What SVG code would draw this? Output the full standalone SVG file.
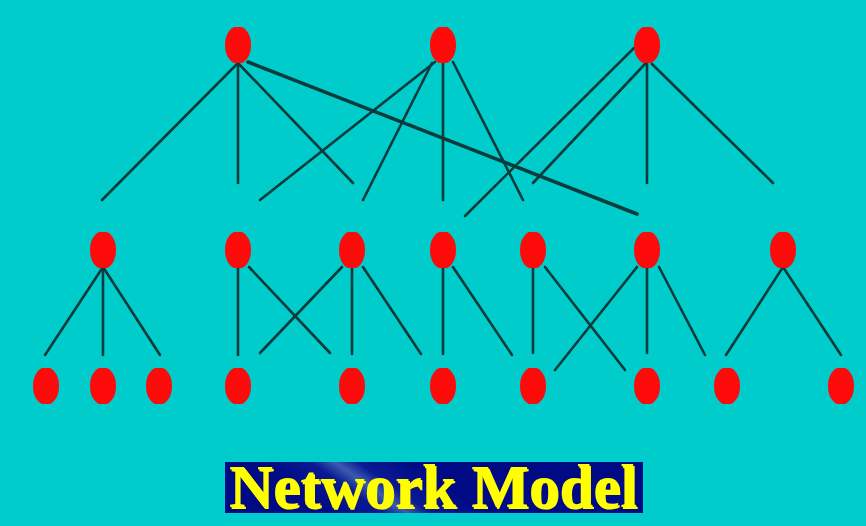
<svg xmlns="http://www.w3.org/2000/svg" xmlns:xlink="http://www.w3.org/1999/xlink" width="866" height="526" viewBox="0 0 866 526">
<style>
.edge{stroke:#0b3b3b;stroke-width:2.6;stroke-linecap:round;fill:none}
.thick{stroke-width:3.6}
.node{fill:#ff0a0a}
.title{font-family:"Liberation Serif","Times New Roman",serif;font-weight:bold;font-size:61px;fill:#ffff00}
</style>
<defs>
<path id="oct" d="M-4,-18 L4,-18 C10,-15 13,-8 13,0 C13,8 10,15 4,18 L-4,18 C-10,15 -13,8 -13,0 C-13,-8 -10,-15 -4,-18 Z"/>
<linearGradient id="bar" gradientUnits="userSpaceOnUse" x1="344" y1="524" x2="396" y2="450">
<stop offset="0" stop-color="#000a85"/>
<stop offset="0.35" stop-color="#0a1a92"/>
<stop offset="0.5" stop-color="#3a5cb0"/>
<stop offset="0.65" stop-color="#0a1a92"/>
<stop offset="1" stop-color="#000a85"/>
</linearGradient>
</defs>
<rect x="0" y="0" width="866" height="526" fill="#00cccc"/>
<g id="connectors">
<line class="edge" x1="238" y1="63" x2="102" y2="200"/>
<line class="edge" x1="238" y1="63" x2="238" y2="183"/>
<line class="edge" x1="238" y1="63" x2="353" y2="183"/>
<line class="edge thick" x1="248" y1="62" x2="637" y2="214"/>
<line class="edge" x1="435" y1="62" x2="260" y2="200"/>
<line class="edge" x1="432" y1="63" x2="363" y2="200"/>
<line class="edge" x1="443" y1="63" x2="443" y2="200"/>
<line class="edge" x1="453" y1="62" x2="523" y2="200"/>
<line class="edge" x1="634" y1="48" x2="465" y2="216"/>
<line class="edge" x1="645" y1="64" x2="533" y2="183"/>
<line class="edge" x1="647" y1="63" x2="647" y2="183"/>
<line class="edge" x1="652" y1="64" x2="773" y2="183"/>
<line class="edge" x1="103" y1="267" x2="45" y2="355"/>
<line class="edge" x1="103" y1="267" x2="103" y2="355"/>
<line class="edge" x1="103" y1="267" x2="160" y2="355"/>
<line class="edge" x1="238" y1="268" x2="238" y2="355"/>
<line class="edge" x1="249" y1="267" x2="330" y2="353"/>
<line class="edge" x1="342" y1="267" x2="260" y2="353"/>
<line class="edge" x1="352" y1="268" x2="352" y2="354"/>
<line class="edge" x1="363" y1="267" x2="421" y2="354"/>
<line class="edge" x1="443" y1="268" x2="443" y2="354"/>
<line class="edge" x1="453" y1="267" x2="512" y2="355"/>
<line class="edge" x1="533" y1="268" x2="533" y2="353"/>
<line class="edge" x1="545" y1="267" x2="625" y2="370"/>
<line class="edge" x1="637" y1="267" x2="555" y2="370"/>
<line class="edge" x1="647" y1="268" x2="647" y2="353"/>
<line class="edge" x1="659" y1="267" x2="705" y2="355"/>
<line class="edge" x1="783" y1="267" x2="726" y2="355"/>
<line class="edge" x1="783" y1="267" x2="841" y2="355"/>
</g>
<g id="n-top1"><use xlink:href="#oct" class="node" x="238" y="45"/></g>
<g id="n-top2"><use xlink:href="#oct" class="node" x="443" y="45"/></g>
<g id="n-top3"><use xlink:href="#oct" class="node" x="647" y="45"/></g>
<g id="n-mid1"><use xlink:href="#oct" class="node" x="103" y="250"/></g>
<g id="n-mid2"><use xlink:href="#oct" class="node" x="238" y="250"/></g>
<g id="n-mid3"><use xlink:href="#oct" class="node" x="352" y="250"/></g>
<g id="n-mid4"><use xlink:href="#oct" class="node" x="443" y="250"/></g>
<g id="n-mid5"><use xlink:href="#oct" class="node" x="533" y="250"/></g>
<g id="n-mid6"><use xlink:href="#oct" class="node" x="647" y="250"/></g>
<g id="n-mid7"><use xlink:href="#oct" class="node" x="783" y="250"/></g>
<g id="n-bot1"><use xlink:href="#oct" class="node" x="46" y="386"/></g>
<g id="n-bot2"><use xlink:href="#oct" class="node" x="103" y="386"/></g>
<g id="n-bot3"><use xlink:href="#oct" class="node" x="159" y="386"/></g>
<g id="n-bot4"><use xlink:href="#oct" class="node" x="238" y="386"/></g>
<g id="n-bot5"><use xlink:href="#oct" class="node" x="352" y="386"/></g>
<g id="n-bot6"><use xlink:href="#oct" class="node" x="443" y="386"/></g>
<g id="n-bot7"><use xlink:href="#oct" class="node" x="533" y="386"/></g>
<g id="n-bot8"><use xlink:href="#oct" class="node" x="647" y="386"/></g>
<g id="n-bot9"><use xlink:href="#oct" class="node" x="727" y="386"/></g>
<g id="n-bot10"><use xlink:href="#oct" class="node" x="841" y="386"/></g>
<g id="title">
<rect x="225" y="462" width="418" height="51" fill="url(#bar)"/>
<text class="title" x="229" y="507" fill="#000033" dx="1.5" dy="1.5">Network Model</text>
<text class="title" x="229" y="507">Network Model</text>
</g>
</svg>
